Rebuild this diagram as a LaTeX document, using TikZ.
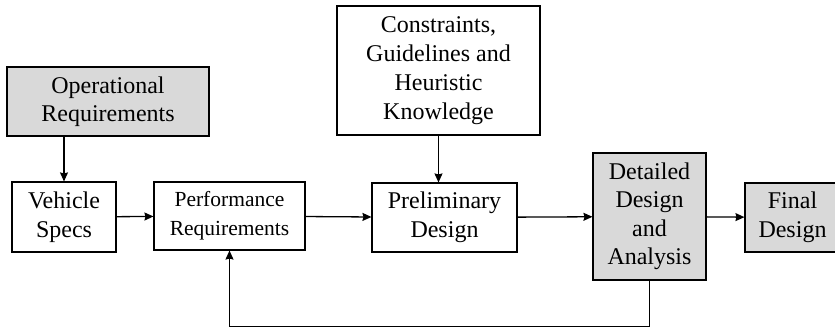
\documentclass[tikz,border=0pt]{standalone}
\usepackage{fontspec}
\setmainfont{Liberation Serif}
\usepackage{tikz}
\usetikzlibrary{arrows.meta,positioning}

\begin{document}
\begin{tikzpicture}[
  x=1pt, y=-1pt,
  box/.style={draw, line width=1.1pt, inner sep=0pt, align=center, font=\fontsize{24}{28.5}\selectfont},
  shaded/.style={box, fill=black!15},
  arr/.style={-{Stealth[length=9pt, width=8pt, inset=1pt]}, line width=1.3pt}
]
  \useasboundingbox (0,0) rectangle (835,328);

  \node[shaded, minimum width=202pt, minimum height=69pt] (oper) at (108,101.5) {Operational\\Requirements};
  \node[box, minimum width=104pt, minimum height=70pt] (veh) at (64,217) {Vehicle\\Specs};
  \node[box, minimum width=151pt, minimum height=68pt, font=\fontsize{21.5}{29}\selectfont] (perf) at (229.5,216) {Performance\\Requirements};
  \node[box, minimum width=203pt, minimum height=129pt, font=\fontsize{24}{29}\selectfont] (cons) at (438.5,70.5) {Constraints,\\Guidelines and\\Heuristic\\Knowledge};
  \node[box, minimum width=145pt, minimum height=69pt] (prelim) at (444.5,217.5) {Preliminary\\Design};
  \node[shaded, minimum width=113pt, minimum height=127pt] (det) at (649.5,216.5) {Detailed\\Design\\and\\Analysis};
  \node[shaded, minimum width=95pt, minimum height=69pt] (final) at (792.5,217.5) {Final\\Design};

  % main flow
  \draw[arr] (oper.south -| veh.north) -- (veh.north);
  \draw[arr] (veh) -- (perf);
  \draw[arr] (perf) -- (prelim);
  \draw[arr] (cons.south) -- (cons.south |- prelim.north);
  \draw[arr] (prelim) -- (det);
  \draw[arr] (det) -- (final);

  % feedback loop
  \draw[arr] (det.south) -- ++(0,46) -| (perf.south);
\end{tikzpicture}
\end{document}
